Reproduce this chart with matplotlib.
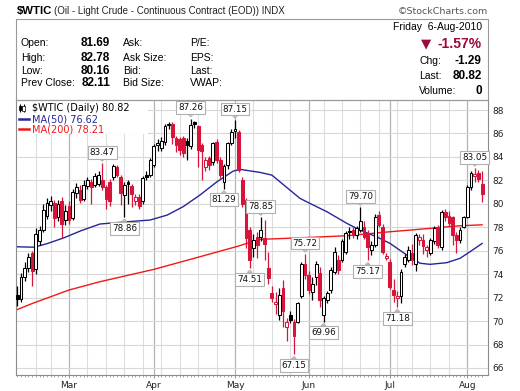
import numpy as np
import pandas as pd
import matplotlib
matplotlib.use("Agg")
import matplotlib.pyplot as plt
from matplotlib.patches import Rectangle

# trading days on the chart (the Good Friday bar is there, the other holidays are not)
days = pd.bdate_range("2010-02-08", "2010-08-06")
days = days.drop(pd.to_datetime(["2010-02-15", "2010-05-31", "2010-07-05"]))

opens = [72.2, 71.9, 73.8, 74.5, 75.8, 74.4, 76.8, 77.8, 79.0, 79.9,
         80.1, 78.9, 80.2, 78.6, 79.8, 78.8, 80.9, 81.2, 80.4, 81.5,
         81.9, 81.6, 81.7, 82.0, 81.45, 81.9, 82.3, 83.15, 82.3, 80.75,
         81.9, 81.5, 80.2, 80.6, 80.2, 82.5, 82.45, 83.3, 85.0, 84.8,
         85.3, 86.7, 86.85, 85.6, 85.5, 85.6, 85.4, 84.9, 86.95, 86.6,
         85.0, 83.15, 83.9, 83.6, 85.3, 83.7, 81.9, 83.3, 85.15, 86.2,
         86.15, 82.0, 80.3, 77.8, 76.2, 77.2, 77.2, 77.05, 74.5, 72.4,
         71.45, 70.5, 72.8, 69.5, 70.5, 69.95, 69.95, 72.1, 74.9, 73.9,
         72.5, 73.8, 74.1, 70.5, 71.8, 72.65, 74.2, 75.2, 75.2, 75.9,
         77.7, 77.8, 77.3, 77.8, 78.05, 77.5, 76.05, 76.5, 79.05, 78.05,
         75.4, 75.05, 72.65, 71.95, 72.1, 74.9, 75.2, 75.8, 74.9, 76.9,
         76.9, 76.05, 75.8, 76.8, 77.9, 76.35, 79.3, 79.0, 78.9, 77.3,
         76.9, 78.05, 78.9, 81.45, 82.4, 82.6, 81.69]
highs = [73.0, 74.1, 75.0, 75.8, 76.0, 77.9, 78.1, 80.0, 80.5, 80.7,
         80.3, 80.3, 80.6, 79.9, 80.2, 81.3, 81.8, 81.6, 82.0, 82.3,
         82.1, 82.6, 82.8, 83.47, 81.6, 82.1, 83.4, 83.3, 82.5, 81.9,
         82.0, 81.7, 80.8, 80.8, 82.4, 82.8, 83.9, 85.1, 85.5, 85.7,
         86.8, 87.0, 87.0, 85.8, 85.7, 85.8, 85.6, 87.26, 87.1, 86.7,
         85.2, 84.0, 84.1, 85.3, 85.5, 84.0, 83.4, 85.3, 86.4, 87.15,
         86.3, 82.3, 80.5, 78.0, 77.4, 77.6, 78.85, 78.6, 75.9, 73.0,
         72.5, 72.8, 73.5, 70.3, 70.9, 70.2, 71.6, 75.0, 75.72, 74.3,
         73.8, 75.1, 74.6, 72.1, 72.6, 74.6, 76.3, 75.6, 77.0, 77.7,
         78.0, 78.1, 78.1, 79.7, 78.5, 77.8, 76.8, 79.1, 79.4, 78.3,
         75.8, 75.3, 73.6, 72.6, 74.4, 75.7, 76.4, 76.6, 77.5, 77.4,
         77.4, 76.5, 77.1, 78.1, 78.2, 79.5, 79.6, 79.4, 79.0, 77.6,
         78.0, 79.0, 81.6, 82.8, 83.05, 82.9, 82.78]
lows = [71.3, 71.6, 73.4, 74.2, 73.0, 74.0, 76.5, 77.6, 78.7, 79.4,
        78.0, 78.5, 77.1, 78.2, 78.3, 78.6, 80.5, 80.1, 80.2, 81.3,
        80.0, 81.4, 81.5, 81.2, 79.6, 79.8, 82.0, 82.3, 79.9, 78.86,
        80.0, 79.7, 79.9, 79.6, 80.0, 82.0, 82.3, 83.1, 84.5, 84.5,
        85.0, 86.4, 85.1, 84.4, 84.2, 84.0, 83.7, 84.7, 86.5, 83.15,
        82.0, 82.8, 82.9, 83.3, 83.5, 82.2, 81.29, 83.0, 85.0, 85.6,
        82.7, 79.7, 76.2, 74.51, 75.5, 75.35, 76.8, 75.2, 73.2, 71.6,
        70.6, 70.1, 69.5, 68.3, 69.8, 67.15, 69.8, 72.0, 73.6, 72.3,
        71.8, 73.1, 71.2, 69.96, 71.5, 72.4, 74.0, 74.0, 75.0, 75.7,
        77.0, 77.1, 77.0, 77.6, 77.0, 75.17, 75.6, 76.3, 78.0, 75.7,
        75.2, 72.7, 71.6, 71.18, 71.5, 74.6, 75.0, 74.8, 74.3, 76.5,
        75.7, 75.5, 75.6, 76.6, 76.2, 76.1, 78.5, 78.1, 76.5, 75.8,
        76.7, 77.9, 78.8, 81.2, 81.9, 81.9, 80.16]
closes = [71.9, 73.8, 74.5, 75.5, 74.3, 77.4, 77.8, 79.5, 80.1, 80.2,
          78.8, 80.0, 78.3, 79.4, 78.6, 81.0, 81.4, 80.3, 81.6, 82.0,
          81.4, 82.4, 82.5, 81.45, 80.4, 80.2, 83.2, 82.45, 80.9, 81.6,
          81.7, 80.8, 80.6, 79.8, 82.2, 82.3, 83.7, 84.9, 85.2, 85.4,
          86.6, 86.85, 85.7, 85.0, 84.6, 84.3, 85.0, 86.7, 86.8, 84.6,
          84.5, 83.7, 83.3, 85.15, 83.7, 82.45, 83.2, 85.15, 86.15, 86.4,
          82.9, 80.0, 77.06, 75.2, 76.9, 76.5, 77.8, 76.6, 73.65, 71.95,
          71.65, 72.2, 70.9, 69.95, 70.1, 68.7, 71.5, 74.9, 73.9, 72.65,
          73.2, 74.9, 71.8, 71.95, 72.4, 74.35, 75.9, 74.35, 76.8, 77.5,
          77.6, 77.3, 77.9, 78.5, 77.2, 76.3, 76.5, 78.9, 78.2, 75.9,
          75.55, 72.9, 72.2, 72.1, 74.2, 75.5, 76.1, 75.2, 77.35, 77.2,
          76.4, 76.3, 76.9, 77.9, 76.5, 79.3, 78.9, 78.4, 77.35, 76.9,
          77.8, 78.9, 81.45, 82.6, 82.55, 82.11, 80.82]

# moving averages (bar number, value)
ma50_x = [-0.4, 4.5, 8.0, 12.6, 17.2, 22.4, 29.7, 36.0, 40.6, 44.9, 49.5, 54.1,
          58.5, 60.4, 65.8, 69.0, 76.6, 79.3, 83.9, 89.3, 92.9, 97.4, 101.0,
          105.6, 109.2, 111.9, 116.4, 120.0, 122.7, 126.0]
ma50_y = [76.34, 76.3, 76.6, 77.1, 77.7, 78.28, 78.47, 78.62, 79.04, 79.75, 80.75,
          81.88, 82.79, 82.94, 82.68, 82.45, 80.47, 80.04, 79.33, 78.34, 77.76,
          77.19, 76.63, 75.63, 74.93, 74.84, 74.98, 75.35, 75.91, 76.62]
ma200_x = [-0.4, 4.2, 14.0, 22.4, 37.0, 49.5, 59.3, 65.8, 76.6, 89.3, 101.0,
           106.5, 113.7, 120.0, 126.0]
ma200_y = [70.94, 71.52, 72.65, 73.36, 74.41, 75.49, 76.34, 76.97, 77.1, 77.28,
           77.62, 77.76, 77.96, 78.13, 78.21]

# price labels: bar number, above the high ("h") or below the low ("l")
tag_bars = [23, 47, 59, 66, 78, 93, 124, 29, 56, 63, 75, 83, 95, 103]
tag_side = ["h", "h", "h", "h", "h", "h", "h", "l", "l", "l", "l", "l", "l", "l"]

RED = "#d9143a"
W, H = 520, 391

def fx(px):
    return px / W

def fy(py):
    return 1 - py / H

fig = plt.figure(figsize=(5.2, 3.91), dpi=100)
fig.patch.set_facecolor("white")

ax = fig.add_axes([fx(16), fy(375), 472 / W, 275.5 / H])
n = len(closes)
x = np.arange(n)
o, h, l, c = map(np.array, (opens, highs, lows, closes))

# grid: weekly light lines, monthly darker ones
month_start = [i for i in range(n) if i == 0 or days[i].month != days[i - 1].month][1:]
week_start = [i for i in range(1, n) if days[i].isocalendar()[1] != days[i - 1].isocalendar()[1]]
for i in week_start:
    if i not in month_start:
        ax.axvline(i, color="#dddddd", lw=0.8, zorder=0)
for i in month_start:
    ax.axvline(i, color="#b4b4b4", lw=0.9, zorder=0)
ax.set_yticks(np.arange(66, 89, 2))
ax.grid(axis="y", color="#d8d8d8", lw=0.8)
ax.set_axisbelow(True)

# candles
prev = np.r_[c[0], c[:-1]]
for i in x:
    col = RED if c[i] < prev[i] else "black"
    hollow = c[i] >= o[i]
    ax.vlines(i, l[i], h[i], color=col, lw=0.9, zorder=3)
    lo, hi = min(o[i], c[i]), max(o[i], c[i])
    ax.add_patch(Rectangle((i - 0.38, lo), 0.76, max(hi - lo, 0.05),
                           fc="white" if hollow else col, ec=col, lw=0.75, zorder=4))

ax.plot(ma50_x, ma50_y, color="#262696", lw=1.0, zorder=2)
ax.plot(ma200_x, ma200_y, color="#f21818", lw=1.0, zorder=2)

for i, s in zip(tag_bars, tag_side):
    v = h[i] if s == "h" else l[i]
    dy = 11 if s == "h" else -11
    ax.annotate(f"{v:.2f}", xy=(i, v), xytext=(0, dy * 0.72), textcoords="offset points",
                ha="center", va="center", fontsize=6.3, color="#111111", zorder=6,
                bbox=dict(boxstyle="square,pad=0.22", fc="white", ec="#b0b0b0", lw=0.8),
                arrowprops=dict(arrowstyle="wedge,tail_width=0.5", fc="white", ec="#b0b0b0",
                                lw=0.8, shrinkA=0, shrinkB=1.5))

ax.set_xlim(-0.38, 127.6)
ax.set_ylim(65.4, 88.9)

ax.yaxis.tick_right()
ax.tick_params(axis="y", length=0, pad=3, labelsize=6.5, labelcolor="#222222")
ax.set_xticks(month_start)
ax.set_xticklabels([days[i].strftime("%b") for i in month_start])
ax.set_xticks(x, minor=True)
ax.tick_params(axis="x", which="major", length=2, pad=2, labelsize=6.5, color="#999999",
               labelcolor="#222222")
ax.tick_params(axis="x", which="minor", length=1.5, color="#999999")
for sp in ax.spines.values():
    sp.set_color("#8c8c8c")
    sp.set_linewidth(0.8)

# legend block in the corner
ax.add_patch(Rectangle((0, 0.875), 0.28, 0.125, transform=ax.transAxes,
                       fc="white", ec="none", zorder=1))
ax.vlines([0.009, 0.016], 0.955, 0.985, transform=ax.transAxes, color="black", lw=0.8, zorder=5)
ax.add_patch(Rectangle((0.006, 0.962), 0.006, 0.015, transform=ax.transAxes,
                       fc="black", ec="black", lw=0.5, zorder=5))
ax.add_patch(Rectangle((0.013, 0.958), 0.006, 0.02, transform=ax.transAxes,
                       fc="white", ec="black", lw=0.5, zorder=5))
ax.text(0.033, 0.970, f"$WTIC (Daily) {c[-1]:.2f}", transform=ax.transAxes,
        fontsize=7, va="center", zorder=5)
ax.plot([0.007, 0.027], [0.929, 0.929], transform=ax.transAxes, color="#262696", lw=1.8, zorder=5)
ax.text(0.033, 0.929, f"MA(50) {ma50_y[-1]:.2f}", transform=ax.transAxes,
        fontsize=7, va="center", color="#262696", zorder=5)
ax.plot([0.007, 0.027], [0.892, 0.892], transform=ax.transAxes, color="#f21818", lw=1.8, zorder=5)
ax.text(0.033, 0.892, f"MA(200) {ma200_y[-1]:.2f}", transform=ax.transAxes,
        fontsize=7, va="center", color="#f21818", zorder=5)

# header
fig.add_artist(Rectangle((fx(16), fy(99.5)), 472 / W, 80.5 / H, transform=fig.transFigure,
                         fill=False, ec="#9a9a9a", lw=0.8))
sans = "Liberation Sans"
fig.text(fx(16.5), fy(11), "$WTIC", fontsize=8.2, fontweight="bold", family=sans, va="center")
fig.text(fx(53.5), fy(11.5), "(Oil - Light Crude - Continuous Contract (EOD)) INDX",
         fontsize=7, family=sans, va="center", color="#222222")
fig.text(fx(488), fy(11.5), "\u00a9StockCharts.com", fontsize=6.8, ha="right", va="center",
         color="#555555")

rows = [43.3, 57.8, 70.8, 83.3]
col1 = ["Open:", "High:", "Low:", "Prev Close:"]
vals = [opens[-1], highs[-1], lows[-1], closes[-2]]
col2 = ["Ask:", "Ask Size:", "Bid:", "Bid Size:"]
col3 = ["P/E:", "EPS:", "Last:", "VWAP:"]
for r, a, v, b, d in zip(rows, col1, vals, col2, col3):
    fig.text(fx(20.7), fy(r), a, fontsize=7.5, family=sans, va="center")
    fig.text(fx(110), fy(r), f"{v:.2f}", fontsize=8.5, family=sans, fontweight="bold",
             va="center", ha="right")
    fig.text(fx(123.3), fy(r), b, fontsize=7.5, family=sans, va="center")
    fig.text(fx(190), fy(r), d, fontsize=7.5, family=sans, va="center")

chg = closes[-1] - closes[-2]
DRED = "#9b0a3a"
fig.text(fx(481.7), fy(27.5), days[-1].strftime("%A  %-d-%b-%Y"), fontsize=7.5, family=sans,
         ha="right", va="center")
fig.text(fx(426), fy(44), "\u25bc", fontsize=9.5, color=DRED, ha="center", va="center")
fig.text(fx(481.7), fy(44), f"{chg / closes[-2] * 100:.2f}%", fontsize=10, family=sans,
         fontweight="bold", color=DRED, ha="right", va="center")
for r, a, v in zip([61, 76, 90.7], ["Chg:", "Last:", "Volume:"],
                   [f"{chg:.2f}", f"{closes[-1]:.2f}", "0"]):
    fig.text(fx(419.3), fy(r), a, fontsize=7.5, family=sans, va="center")
    fig.text(fx(481.7), fy(r), v, fontsize=8.5, family=sans, fontweight="bold",
             ha="right", va="center")

fig.savefig("out.png", dpi=100)
